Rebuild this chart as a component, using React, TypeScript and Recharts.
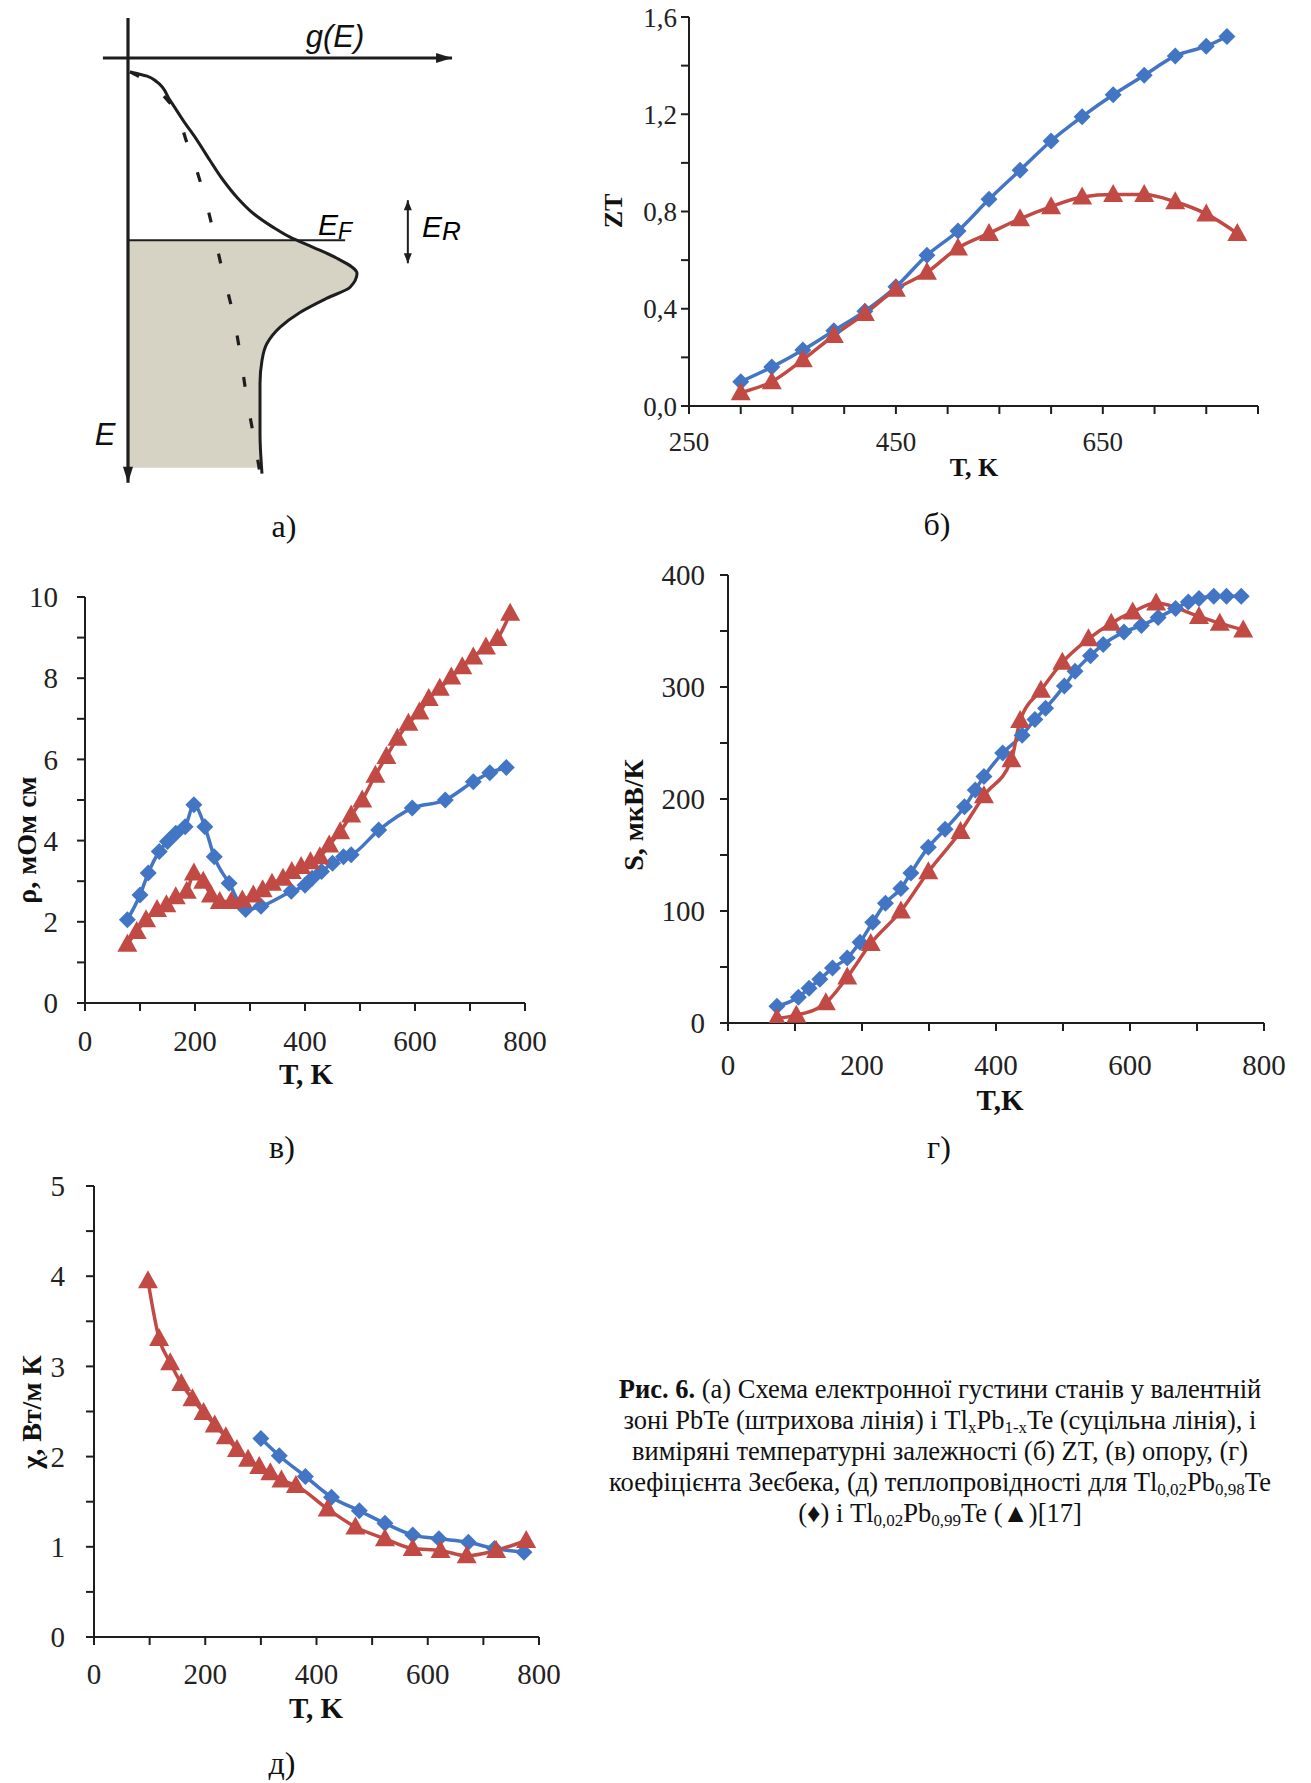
import React from "react";
import {
  LineChart,
  Line,
  XAxis,
  YAxis,
  ComposedChart,
  Area,
  ReferenceLine,
} from "recharts";

const BLUE = "#4276c4";
const RED = "#c24a45";
const INK = "#1e1e1e";
const SHADE = "#d6d3c4";
const SERIF = '"Liberation Serif", "Times New Roman", serif';
const SANS = '"Liberation Sans", Arial, sans-serif';

// ---- (а) density of states sketch, g in arbitrary units, E downwards ----
const dosSolidG = [0.06, 0.58, 0.88, 1.27, 1.67, 2.09, 2.48, 2.88, 3.3, 3.79, 4.39, 4.91, 5.61, 6.33, 6.94, 6.73, 6.03, 5.21, 4.61, 4.21, 4.06, 4.0, 4.0, 4.06];
const dosSolidE = [0.33, 0.43, 0.57, 1.0, 1.48, 1.95, 2.43, 2.9, 3.31, 3.69, 4.02, 4.26, 4.5, 4.76, 5.12, 5.45, 5.71, 6.05, 6.4, 6.79, 7.19, 7.74, 8.93, 9.88];
const dosDashG = [0.06, 0.42, 1.27, 1.79, 2.24, 2.58, 2.88, 3.18, 3.42, 3.61, 3.85, 4.0];
const dosDashE = [0.33, 0.48, 1.07, 2.02, 3.07, 4.1, 5.12, 6.07, 7.14, 8.14, 9.17, 9.88];
const dosFillG = [0, 5.12, 5.61, 6.33, 6.94, 6.73, 6.03, 5.21, 4.61, 4.21, 4.06, 4.0, 4.0, 4.02];
const dosFillE = [4.33, 4.33, 4.5, 4.76, 5.12, 5.45, 5.71, 6.05, 6.4, 6.79, 7.19, 7.74, 8.93, 9.74];
const fermiE = 4.33;

// ---- (б) ZT ----
const ztBlueT = [300, 330, 360, 390, 420, 450, 480, 510, 540, 570, 600, 630, 660, 690, 720, 750, 770];
const ztBlue = [0.1, 0.16, 0.23, 0.31, 0.39, 0.49, 0.62, 0.72, 0.85, 0.97, 1.09, 1.19, 1.28, 1.36, 1.44, 1.48, 1.52];
const ztRedT = [300, 330, 360, 390, 420, 450, 480, 510, 540, 570, 600, 630, 660, 690, 720, 750, 780];
const ztRed = [0.055, 0.1, 0.19, 0.29, 0.38, 0.48, 0.55, 0.65, 0.71, 0.77, 0.82, 0.86, 0.87, 0.87, 0.84, 0.79, 0.71];

// ---- (в) resistivity, mOhm cm ----
const rhoBlueT = [77, 100, 115, 135, 150, 165, 182, 198, 218, 235, 262, 292, 320, 375, 400, 413, 430, 450, 470, 484, 534, 595, 655, 706, 736, 766];
const rhoBlue = [2.05, 2.66, 3.2, 3.73, 3.98, 4.18, 4.34, 4.88, 4.34, 3.6, 2.95, 2.3, 2.38, 2.75, 2.9, 3.07, 3.24, 3.44, 3.6, 3.65, 4.26, 4.8, 5.0, 5.45, 5.67, 5.8];
const rhoRedT = [77, 94, 111, 131, 148, 165, 185, 198, 215, 229, 245, 266, 286, 306, 323, 340, 360, 376, 393, 410, 427, 444, 464, 484, 504, 528, 548, 568, 588, 608, 625, 645, 666, 686, 706, 729, 750, 773];
const rhoRed = [1.45, 1.76, 2.05, 2.3, 2.42, 2.62, 2.75, 3.2, 3.0, 2.66, 2.5, 2.5, 2.54, 2.66, 2.79, 2.95, 3.07, 3.24, 3.36, 3.48, 3.6, 3.89, 4.22, 4.63, 5.0, 5.61, 6.07, 6.52, 6.89, 7.17, 7.5, 7.75, 8.03, 8.28, 8.52, 8.77, 8.98, 9.6];

// ---- (г) Seebeck, uV/K ----
const sBlueT = [73, 105, 121, 137, 156, 178, 197, 216, 235, 258, 273, 299, 324, 353, 369, 382, 410, 439, 458, 474, 502, 518, 541, 560, 591, 617, 642, 668, 687, 703, 725, 744, 766];
const sBlue = [15, 23, 31, 39, 49, 58, 72, 90, 107, 120, 134, 157, 173, 193, 208, 220, 241, 257, 271, 281, 301, 314, 328, 338, 349, 355, 362, 370, 376, 379, 381, 381, 381];
const sRedT = [73, 102, 146, 178, 213, 258, 299, 347, 382, 423, 436, 467, 499, 538, 572, 604, 639, 703, 734, 769];
const sRed = [4, 7, 18, 41, 71, 100, 135, 171, 203, 235, 270, 297, 322, 343, 357, 367, 375, 363, 357, 351];

// ---- (д) thermal conductivity, W/m K ----
const kBlueT = [300, 333, 380, 427, 477, 523, 573, 620, 673, 720, 773];
const kBlue = [2.2, 2.01, 1.78, 1.55, 1.4, 1.26, 1.13, 1.09, 1.05, 0.98, 0.94];
const kRedT = [97, 117, 137, 157, 177, 197, 217, 237, 257, 277, 297, 317, 337, 363, 420, 470, 523, 573, 623, 670, 723, 777];
const kRed = [3.95, 3.31, 3.04, 2.81, 2.64, 2.49, 2.35, 2.22, 2.08, 1.97, 1.89, 1.82, 1.74, 1.68, 1.42, 1.22, 1.09, 0.98, 0.96, 0.9, 0.96, 1.07];

const range = (a: number, b: number, s: number) => {
  const out: number[] = [];
  for (let v = a; v <= b + 1e-9; v += s) out.push(Math.round(v * 1000) / 1000);
  return out;
};
const every = (step: number, fmt: (v: number) => string = String) => (v: number) =>
  Math.abs(v / step - Math.round(v / step)) < 1e-6 ? fmt(v) : "";
const comma = (v: number) => v.toFixed(1).replace(".", ",");

const pts = (t: number[], v: number[]) => t.map((T, i) => ({ T, v: v[i] }));
const dos = (g: number[], e: number[]) => g.map((x, i) => ({ g: x, E: e[i] }));

const diamondDot = (p: any) => {
  const { cx, cy, index } = p;
  if (cx == null || cy == null) return <g key={`d${index}`} />;
  const r = 8.5;
  return (
    <polygon
      key={`d${index}`}
      points={`${cx},${cy - r} ${cx + r},${cy} ${cx},${cy + r} ${cx - r},${cy}`}
      fill={BLUE}
    />
  );
};
const triangleDot = (p: any) => {
  const { cx, cy, index } = p;
  if (cx == null || cy == null) return <g key={`t${index}`} />;
  return (
    <polygon
      key={`t${index}`}
      points={`${cx},${cy - 10.5} ${cx + 10},${cy + 7.5} ${cx - 10},${cy + 7.5}`}
      fill={RED}
    />
  );
};

type Rect = { l: number; t: number; r: number; b: number };

function PlotPanel(props: {
  rect: Rect;
  xDomain: [number, number];
  xTicks: number[];
  xFmt: (v: number) => string;
  yDomain: [number, number];
  yTicks: number[];
  yFmt: (v: number) => string;
  blue: { T: number; v: number }[];
  red: { T: number; v: number }[];
  fontSize: number;
  xGap: number;
  yGap: number;
}) {
  const { rect, fontSize } = props;
  const yw = 110;
  const mt = 26;
  const mr = 50;
  const xh = 70;
  const w = yw + rect.r - rect.l + mr;
  const h = mt + rect.b - rect.t + xh;
  const tick = { fill: "#222", fontSize, fontFamily: SERIF };
  const line = { stroke: INK, strokeWidth: 2 };
  return (
    <div style={{ position: "absolute", left: rect.l - yw, top: rect.t - mt }}>
      <LineChart width={w} height={h} margin={{ top: mt, right: mr, bottom: 0, left: 0 }}>
        <XAxis
          type="number"
          dataKey="T"
          domain={props.xDomain}
          ticks={props.xTicks}
          tickFormatter={props.xFmt}
          interval={0}
          allowDataOverflow
          height={xh}
          tickSize={8}
          tickMargin={props.xGap - 8}
          axisLine={line}
          tickLine={line}
          tick={tick}
        />
        <YAxis
          type="number"
          domain={props.yDomain}
          ticks={props.yTicks}
          tickFormatter={props.yFmt}
          interval={0}
          allowDataOverflow
          width={yw}
          tickSize={8}
          tickMargin={props.yGap - 8}
          axisLine={line}
          tickLine={line}
          tick={tick}
        />
        <Line
          data={props.blue}
          dataKey="v"
          type="monotone"
          stroke={BLUE}
          strokeWidth={3.5}
          dot={diamondDot}
          activeDot={false}
          isAnimationActive={false}
        />
        <Line
          data={props.red}
          dataKey="v"
          type="monotone"
          stroke={RED}
          strokeWidth={3.5}
          dot={triangleDot}
          activeDot={false}
          isAnimationActive={false}
        />
      </LineChart>
    </div>
  );
}

const Txt = (p: {
  x: number;
  y: number;
  size: number;
  bold?: boolean;
  italic?: boolean;
  rotate?: boolean;
  family?: string;
  children: React.ReactNode;
}) => (
  <div
    style={{
      position: "absolute",
      left: p.x,
      top: p.y,
      transform: `translate(-50%, -50%)${p.rotate ? " rotate(-90deg)" : ""}`,
      fontFamily: p.family ?? SERIF,
      fontSize: p.size,
      fontWeight: p.bold ? 700 : 400,
      fontStyle: p.italic ? "italic" : "normal",
      whiteSpace: "nowrap",
      lineHeight: 1,
      color: "#111",
    }}
  >
    {p.children}
  </div>
);

// arrow drawn along a reference segment
const arrowShape = (heads: "end" | "both", width: number, len: number, half: number) => (p: any) => {
  const { x1, y1, x2, y2 } = p;
  if ([x1, y1, x2, y2].some((v) => v == null)) return <g />;
  const dx = x2 - x1;
  const dy = y2 - y1;
  const d = Math.hypot(dx, dy) || 1;
  const ux = dx / d;
  const uy = dy / d;
  const head = (x: number, y: number, sx: number, sy: number) =>
    `${x},${y} ${x - sx * len - sy * half},${y - sy * len + sx * half} ${x - sx * len + sy * half},${y - sy * len - sx * half}`;
  return (
    <g>
      <line x1={x1} y1={y1} x2={x2} y2={y2} stroke={INK} strokeWidth={width} />
      <polygon points={head(x2, y2, ux, uy)} fill={INK} />
      {heads === "both" && <polygon points={head(x1, y1, -ux, -uy)} fill={INK} />}
    </g>
  );
};

function DosSketch() {
  return (
    <div style={{ position: "absolute", left: 95, top: 16 }}>
      <ComposedChart
        layout="vertical"
        width={363}
        height={471}
        margin={{ top: 0, right: 0, bottom: 0, left: 0 }}
      >
        <XAxis type="number" domain={[-1, 10]} hide allowDataOverflow />
        <YAxis type="number" dataKey="E" domain={[-1, 10.2]} hide allowDataOverflow />
        <Area
          data={dos(dosFillG, dosFillE)}
          dataKey="g"
          type="monotone"
          baseValue={0}
          fill={SHADE}
          fillOpacity={1}
          stroke="none"
          isAnimationActive={false}
        />
        <ReferenceLine
          segment={[{ x: 0, y: fermiE }, { x: 6.58, y: fermiE }]}
          stroke={INK}
          strokeWidth={2}
        />
        <ReferenceLine
          segment={[{ x: -0.76, y: 0 }, { x: 9.82, y: 0 }]}
          shape={arrowShape("end", 3, 16, 5)}
        />
        <ReferenceLine
          segment={[{ x: 0, y: -0.95 }, { x: 0, y: 10.1 }]}
          shape={arrowShape("end", 3.2, 16, 5)}
        />
        <ReferenceLine
          segment={[{ x: 8.48, y: 3.38 }, { x: 8.48, y: 4.88 }]}
          shape={arrowShape("both", 2, 10, 4)}
        />
        <Line
          data={dos(dosDashG, dosDashE)}
          dataKey="g"
          type="monotone"
          stroke={INK}
          strokeWidth={3.2}
          strokeDasharray="10 32"
          dot={false}
          activeDot={false}
          isAnimationActive={false}
        />
        <Line
          data={dos(dosSolidG, dosSolidE)}
          dataKey="g"
          type="monotone"
          stroke={INK}
          strokeWidth={3}
          dot={false}
          activeDot={false}
          isAnimationActive={false}
        />
      </ComposedChart>
    </div>
  );
}

const sub: React.CSSProperties = { fontSize: 17, lineHeight: 0, verticalAlign: "-4px" };

export default function App() {
  return (
    <div
      style={{
        position: "absolute",
        left: 0,
        top: 0,
        width: 1311,
        height: 1783,
        background: "#fff",
        overflow: "hidden",
      }}
    >
      {/* а) */}
      <DosSketch />
      <Txt x={335} y={36} size={31} italic family={SANS}>g(E)</Txt>
      <div style={{ position: "absolute", left: 318, top: 210, fontFamily: SANS, fontStyle: "italic", fontSize: 30, lineHeight: 1 }}>
        E<span style={{ fontSize: 23, verticalAlign: "-4px" }}>F</span>
      </div>
      <div style={{ position: "absolute", left: 422, top: 212, fontFamily: SANS, fontStyle: "italic", fontSize: 30, lineHeight: 1 }}>
        E<span style={{ fontSize: 26, verticalAlign: "-3px" }}>R</span>
      </div>
      <Txt x={105} y={434} size={31} italic family={SANS}>E</Txt>
      <Txt x={284} y={526} size={32}>а)</Txt>

      {/* б) ZT */}
      <PlotPanel
        rect={{ l: 689, t: 17, r: 1258, b: 406 }}
        xDomain={[250, 800]}
        xTicks={range(250, 800, 50)}
        xFmt={(v) => ([250, 450, 650].includes(v) ? String(v) : "")}
        yDomain={[0, 1.6]}
        yTicks={range(0, 1.6, 0.2)}
        yFmt={every(0.4, comma)}
        blue={pts(ztBlueT, ztBlue)}
        red={pts(ztRedT, ztRed)}
        fontSize={27}
        xGap={26}
        yGap={12}
      />
      <Txt x={614} y={211} size={26} bold rotate>ZT</Txt>
      <Txt x={974} y={468} size={26} bold>T, K</Txt>
      <Txt x={937} y={524} size={32}>б)</Txt>

      {/* в) resistivity */}
      <PlotPanel
        rect={{ l: 85, t: 597, r: 525, b: 1003 }}
        xDomain={[0, 800]}
        xTicks={range(0, 800, 100)}
        xFmt={every(200)}
        yDomain={[0, 10]}
        yTicks={range(0, 10, 1)}
        yFmt={every(2)}
        blue={pts(rhoBlueT, rhoBlue)}
        red={pts(rhoRedT, rhoRed)}
        fontSize={29}
        xGap={27}
        yGap={27}
      />
      <Txt x={27} y={840} size={28} bold rotate>ρ, мОм см</Txt>
      <Txt x={306} y={1074} size={29} bold>T, K</Txt>
      <Txt x={282} y={1147} size={32}>в)</Txt>

      {/* г) Seebeck */}
      <PlotPanel
        rect={{ l: 728, t: 575, r: 1264, b: 1023 }}
        xDomain={[0, 800]}
        xTicks={range(0, 800, 100)}
        xFmt={every(200)}
        yDomain={[0, 400]}
        yTicks={range(0, 400, 50)}
        yFmt={every(100)}
        blue={pts(sBlueT, sBlue)}
        red={pts(sRedT, sRed)}
        fontSize={29}
        xGap={31}
        yGap={23}
      />
      <Txt x={634} y={815} size={28} bold rotate>S, мкВ/К</Txt>
      <Txt x={1000} y={1100} size={29} bold>T,K</Txt>
      <Txt x={939} y={1147} size={32}>г)</Txt>

      {/* д) thermal conductivity */}
      <PlotPanel
        rect={{ l: 94, t: 1186, r: 539, b: 1637 }}
        xDomain={[0, 800]}
        xTicks={range(0, 800, 100)}
        xFmt={every(200)}
        yDomain={[0, 5]}
        yTicks={range(0, 5, 0.5)}
        yFmt={every(1)}
        blue={pts(kBlueT, kBlue)}
        red={pts(kRedT, kRed)}
        fontSize={29}
        xGap={26}
        yGap={29}
      />
      <Txt x={32} y={1412} size={28} bold rotate>χ, Вт/м К</Txt>
      <Txt x={316} y={1708} size={29} bold>T, K</Txt>
      <Txt x={282} y={1763} size={32}>д)</Txt>

      {/* caption */}
      <div
        style={{
          position: "absolute",
          left: 590,
          top: 1374,
          width: 700,
          textAlign: "center",
          fontFamily: SERIF,
          fontSize: 26.5,
          lineHeight: "31px",
          color: "#111",
        }}
      >
        <b>Рис. 6.</b> (а) Схема електронної густини станів у валентній
        <br />
        зоні PbTe (штрихова лінія) і Tl<span style={sub}>x</span>Pb<span style={sub}>1-x</span>Te (суцільна лінія), і
        <br />
        виміряні температурні залежності (б) ZT, (в) опору, (г)
        <br />
        коефіцієнта Зеєбека, (д) теплопровідності для Tl<span style={sub}>0,02</span>Pb<span style={sub}>0,98</span>Te
        <br />
        (♦) і Tl<span style={sub}>0,02</span>Pb<span style={sub}>0,99</span>Te (▲)[17]
      </div>
    </div>
  );
}
